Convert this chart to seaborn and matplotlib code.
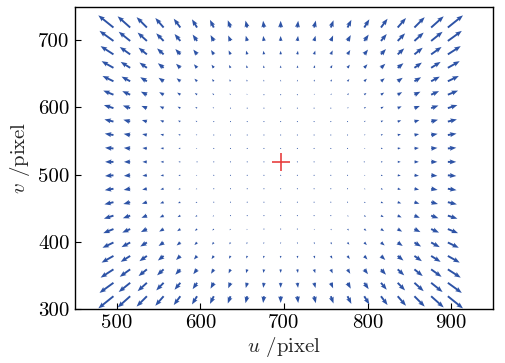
import numpy as np
import pandas as pd
import matplotlib
matplotlib.use("Agg")
import matplotlib.pyplot as plt
import seaborn as sns

# grid of image points (pixel coordinates)
u_grid = [496, 516, 536, 556, 576, 596, 616, 636, 656, 676, 696,
          716, 736, 756, 776, 796, 816, 836, 856, 876, 896]
v_grid = [319, 339, 359, 379, 399, 419, 439, 459, 479, 499, 519,
          539, 559, 579, 599, 619, 639, 659, 679, 699, 719]
# principal point (red cross)
center_u = [696]
center_v = [519]
# radial distortion coefficients
k1 = 1.368e-6
k2 = -2.96e-12

x_ticks = [500, 600, 700, 800, 900]
y_ticks = [300, 400, 500, 600, 700]

sns.set_theme(style="white")
plt.rcParams["font.family"] = ["cmr10", "DejaVu Serif"]
plt.rcParams["mathtext.fontset"] = "cm"
plt.rcParams["axes.formatter.use_mathtext"] = True

U, V = np.meshgrid(u_grid, v_grid)
du0 = U - center_u[0]
dv0 = V - center_v[0]
r2 = du0 ** 2 + dv0 ** 2
f = k1 * r2 + k2 * r2 ** 2
DU = du0 * f
DV = dv0 * f

fig = plt.figure(figsize=(5.05, 3.63), dpi=100)
ax = fig.add_axes([75 / 505, 1 - 309 / 363, (493 - 75) / 505, (309 - 6.7) / 363])

ax.quiver(U, V, DU, DV, angles="xy", scale_units="xy", scale=1,
          color="#2d53a6", width=0.0046, headwidth=2.6, headlength=3.4,
          headaxislength=3.0, minlength=0.6, zorder=2)

df_c = pd.DataFrame({"u": center_u, "v": center_v})
sns.scatterplot(data=df_c, x="u", y="v", marker="+", s=150, color="#e8403f",
                linewidth=1.2, ax=ax, zorder=3)

ax.set_xlim(450, 950)
ax.set_ylim(300, 750)
ax.set_xticks(x_ticks)
ax.set_yticks(y_ticks)
ax.set_xticklabels([str(t) for t in x_ticks])
ax.set_yticklabels([str(t) for t in y_ticks])
ax.tick_params(axis="both", direction="in", length=4, width=0.8, labelsize=15,
               colors="black", bottom=True, left=True, top=False, right=False, pad=4)
for s in ax.spines.values():
    s.set_visible(True)
    s.set_color("black")
    s.set_linewidth(1.0)

ax.set_xlabel(r"$u$ /pixel", fontsize=15, labelpad=2)
ax.set_ylabel(r"$v$ /pixel", fontsize=15, labelpad=4)

fig.savefig("out.png", dpi=100, facecolor="white")
